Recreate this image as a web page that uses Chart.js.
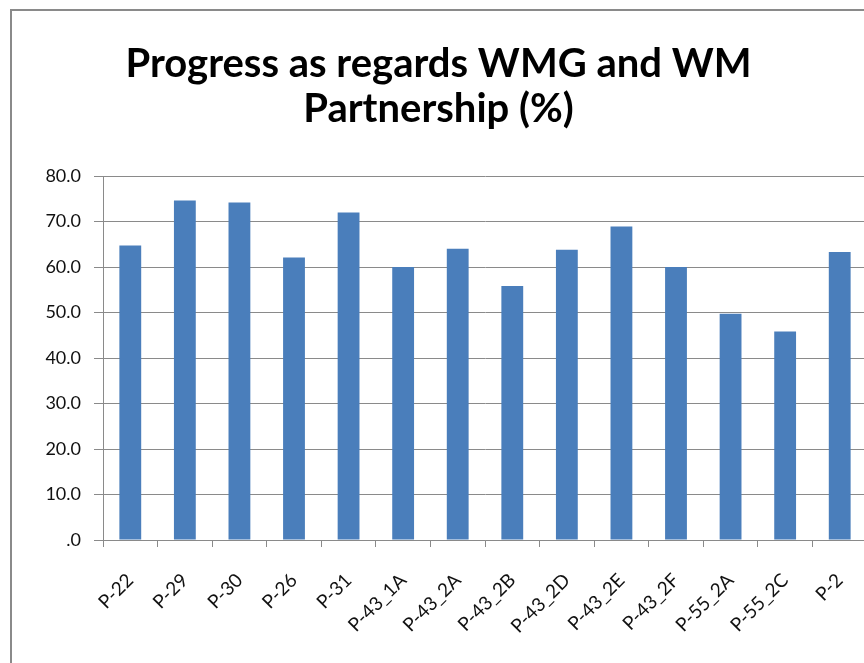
<!DOCTYPE html>
<html>
<head>
<meta charset="utf-8">
<script src="https://cdn.jsdelivr.net/npm/chart.js@4.4.1/dist/chart.umd.min.js"></script>
<style>
  html, body { margin: 0; padding: 0; background: #fff; overflow: hidden; width: 864px; height: 663px; }
  #frame { position: absolute; left: 10px; top: 9px; width: 900px; height: 700px; border: 2px solid #8a8a8a; box-sizing: border-box; background: #fff; }
  #wrap { position: absolute; left: 0; top: 0; width: 900px; height: 700px; }
</style>
</head>
<body>
<div id="frame"></div>
<div id="wrap"><canvas id="c" width="900" height="700"></canvas></div>
<script>
const categories = ['P-22','P-29','P-30','P-26','P-31','P-43_1A','P-43_2A','P-43_2B','P-43_2D','P-43_2E','P-43_2F','P-55_2A','P-55_2C','P-2'];
const progressValues = [64.7, 74.6, 74.2, 62.1, 72.0, 60.0, 64.0, 55.8, 63.8, 68.9, 60.0, 49.7, 45.8, 63.3];
const yTickValues = [0, 10, 20, 30, 40, 50, 60, 70, 80];
const titleLines = ['Progress as regards WMG and WM', 'Partnership (%)'];

const FONT = "Lato, 'Open Sans', 'DejaVu Sans', sans-serif";
const gridColor = '#8a8a8a';

new Chart(document.getElementById('c'), {
  type: 'bar',
  data: {
    labels: categories,
    datasets: [{
      data: progressValues,
      backgroundColor: '#4a7ebb',
      borderWidth: 0,
      barPercentage: 0.4,
      categoryPercentage: 1.0
    }]
  },
  options: {
    responsive: false,
    animation: false,
    devicePixelRatio: 1,
    layout: { padding: { left: 10, right: 33, top: 0, bottom: 0 } },
    plugins: {
      legend: { display: false },
      tooltip: { enabled: false },
      title: {
        display: true,
        text: titleLines,
        color: '#000',
        font: { family: FONT, size: 40, weight: 'bold', lineHeight: 1.125 },
        padding: { top: 42, bottom: 44 }
      }
    },
    scales: {
      x: {
        grid: { display: true, drawOnChartArea: false, drawTicks: true, tickLength: 7, offset: true, color: gridColor, lineWidth: 1 },
        border: { display: true, color: gridColor, width: 1 },
        ticks: {
          color: '#111', autoSkip: false, maxRotation: 45, minRotation: 45, padding: 22,
          font: { family: FONT, size: 19 }
        },
        afterFit: (s) => { s.height = 160; }
      },
      y: {
        min: 0, max: 80,
        afterBuildTicks: (s) => { s.ticks = yTickValues.map(v => ({ value: v })); },
        grid: { color: gridColor, lineWidth: 1, tickLength: 9, drawTicks: true },
        border: { display: true, color: gridColor, width: 1 },
        ticks: {
          color: '#111', padding: 13,
          font: { family: FONT, size: 18 },
          callback: (v) => v === 0 ? '.0' : Number(v).toFixed(1)
        },
        afterFit: (s) => { s.width = 93; }
      }
    }
  }
});
</script>
</body>
</html>
